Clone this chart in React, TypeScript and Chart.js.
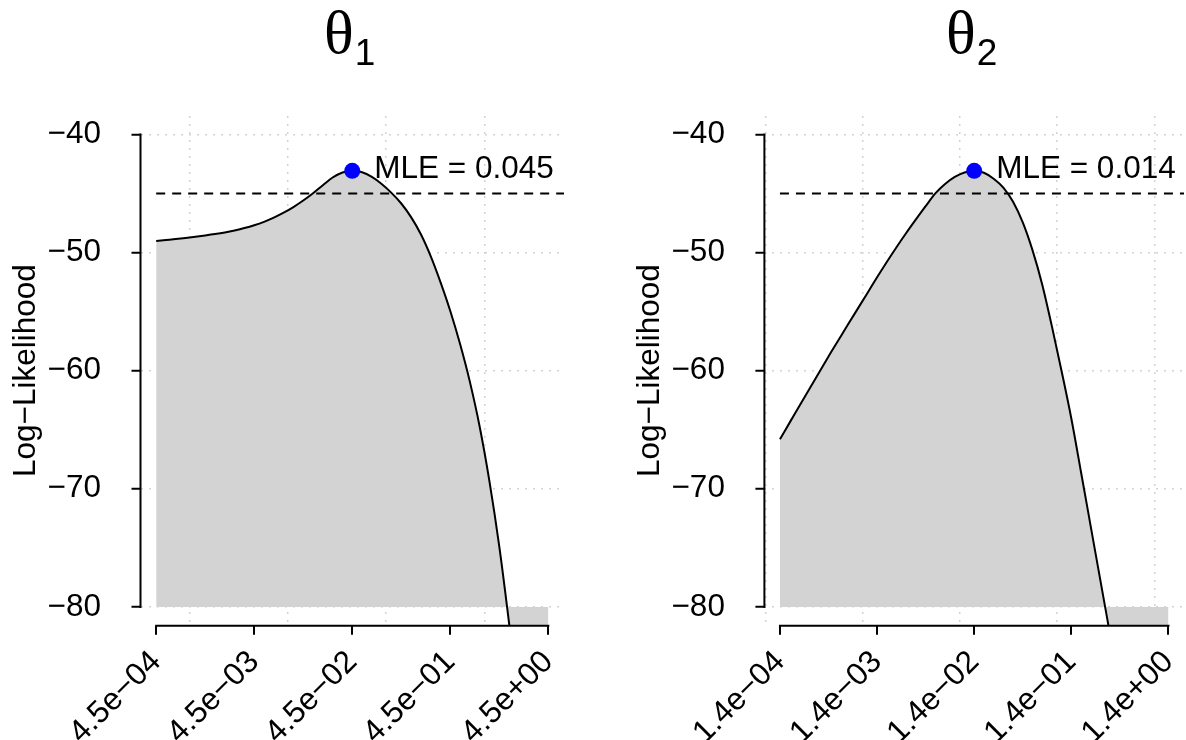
import React, { useEffect, useRef } from "react";
import { Chart, registerables } from "chart.js";

Chart.register(...registerables);

// offsets (in decades) of the profile grid around each MLE
const logOffsets = [
  -2.0, -1.9, -1.8, -1.7, -1.6, -1.5, -1.4, -1.3, -1.2, -1.1, -1.0,
  -0.9, -0.8, -0.7, -0.6, -0.5, -0.4, -0.3, -0.2, -0.1, 0.0,
  0.1, 0.2, 0.3, 0.4, 0.5, 0.6, 0.7, 0.8, 0.9, 1.0,
  1.1, 1.2, 1.3, 1.4, 1.5, 1.6, 1.7, 1.8, 1.9, 2.0,
];

// profile log-likelihood for theta1
const logLik1 = [
  -49.02, -48.94, -48.86, -48.77, -48.67, -48.56, -48.44, -48.3, -48.13, -47.93, -47.69,
  -47.4, -47.05, -46.63, -46.15, -45.6, -44.98, -44.3, -43.65, -43.22, -43.08,
  -43.2, -43.6, -44.2, -44.95, -45.85, -47.0, -48.45, -50.3, -52.5, -54.95,
  -57.75, -60.95, -64.75, -69.4, -74.9, -81.4, -88.5, -96, -104, -112,
];

// profile log-likelihood for theta2
const logLik2 = [
  -65.8, -64.4, -63.0, -61.6, -60.2, -58.8, -57.45, -56.1, -54.77, -53.44, -52.1,
  -50.8, -49.55, -48.35, -47.2, -46.08, -45.0, -44.2, -43.6, -43.22, -43.08,
  -43.25, -43.75, -44.5, -45.7, -47.45, -49.8, -52.7, -56.25, -60.05, -64.05,
  -68.6, -73.2, -77.8, -82.4, -87, -92, -97, -102, -107, -112,
];

const mleValues = [0.045, 0.014];
const maxLogLiks = [-43.08, -43.08];
const cutoffs = [-45.0, -45.0];
const subscripts = ["1", "2"];

const xTicks1 = [4.5e-4, 4.5e-3, 4.5e-2, 4.5e-1, 4.5];
const xTickLabels1 = ["4.5e\u221204", "4.5e\u221203", "4.5e\u221202", "4.5e\u221201", "4.5e+00"];
const xTicks2 = [1.4e-4, 1.4e-3, 1.4e-2, 1.4e-1, 1.4];
const xTickLabels2 = ["1.4e\u221204", "1.4e\u221203", "1.4e\u221202", "1.4e\u221201", "1.4e+00"];
const xGrid1 = [1e-3, 1e-2, 1e-1, 1];
const xGrid2 = [1e-4, 1e-3, 1e-2, 1e-1, 1];

const yTicks = [-80, -70, -60, -50, -40];
const yTickLabels = ["\u221280", "\u221270", "\u221260", "\u221250", "\u221240"];
const yRange = [-81.6, -38.4];
const fillBase = -80;

const SANS = '"Liberation Sans", Arial, Helvetica, sans-serif';
const SERIF = '"Liberation Serif", "Times New Roman", serif';
const FONT_SIZE = 31.5;
const GRID_COLOR = "#D3D3D3";
const GRID_DASH = [2, 6];

type PanelProps = {
  idx: number;
  left: number;
  width: number;
  yAxisWidth: number;
  padRight: number;
  yTitlePad: number;
  values: number[];
  xTicks: number[];
  xTickLabels: string[];
  xGrid: number[];
};

function Panel(p: PanelProps) {
  const ref = useRef<HTMLCanvasElement | null>(null);

  useEffect(() => {
    const canvas = ref.current;
    if (!canvas) return;
    const mle = mleValues[p.idx];
    const maxLL = maxLogLiks[p.idx];
    const cutoff = cutoffs[p.idx];

    const curve = logOffsets.map((d, i) => ({ x: mle * Math.pow(10, d), y: p.values[i] }));
    const lo = Math.log10(p.xTicks[0]);
    const hi = Math.log10(p.xTicks[p.xTicks.length - 1]);
    const pad = 0.04 * (hi - lo);
    const xMin = Math.pow(10, lo - pad);
    const xMax = Math.pow(10, hi + pad);

    const decor = {
      id: "decor",
      afterDraw(chart: any) {
        const { ctx, chartArea, scales } = chart;
        const xs = scales.x;
        const ys = scales.y;
        ctx.save();
        ctx.strokeStyle = "#000";
        ctx.lineWidth = 2;
        ctx.lineCap = "square";
        ctx.setLineDash([]);
        // x axis line (first to last tick)
        const x0 = xs.getPixelForValue(p.xTicks[0]);
        const x1 = xs.getPixelForValue(p.xTicks[p.xTicks.length - 1]);
        ctx.beginPath();
        ctx.moveTo(x0, chartArea.bottom);
        ctx.lineTo(x1, chartArea.bottom);
        ctx.stroke();
        // y axis line (first to last tick)
        const yA = ys.getPixelForValue(yTicks[0]);
        const yB = ys.getPixelForValue(yTicks[yTicks.length - 1]);
        ctx.beginPath();
        ctx.moveTo(chartArea.left, yA);
        ctx.lineTo(chartArea.left, yB);
        ctx.stroke();

        // title theta_i
        ctx.fillStyle = "#000";
        ctx.textBaseline = "alphabetic";
        ctx.textAlign = "left";
        const cx = (chartArea.left + chartArea.right) / 2;
        const thetaFont = `62px ${SERIF}`;
        const subFont = `37px ${SANS}`;
        ctx.font = thetaFont;
        const wT = ctx.measureText("\u03b8").width;
        ctx.font = subFont;
        const wS = ctx.measureText(subscripts[p.idx]).width;
        const start = cx - (wT + wS) / 2 - 3;
        ctx.font = thetaFont;
        ctx.fillText("\u03b8", start, 53);
        ctx.font = subFont;
        ctx.fillText(subscripts[p.idx], start + wT + 1, 65);

        // MLE label
        const px = xs.getPixelForValue(mle);
        const py = ys.getPixelForValue(maxLL);
        ctx.font = `${FONT_SIZE}px ${SANS}`;
        ctx.fillText(`MLE = ${mle}`, px + 22, py + 7);
        ctx.restore();
      },
    };

    const chart = new Chart(canvas, {
      type: "line",
      data: {
        datasets: [
          {
            label: "MLE",
            data: [{ x: mle, y: maxLL }],
            xAxisID: "x",
            yAxisID: "y",
            showLine: false,
            pointRadius: 8,
            pointBackgroundColor: "#0000FF",
            pointBorderColor: "#0000FF",
            pointBorderWidth: 0,
            fill: false,
          },
          {
            label: "cutoff",
            data: [
              { x: curve[0].x, y: cutoff },
              { x: xMax, y: cutoff },
            ],
            xAxisID: "x",
            yAxisID: "y",
            borderColor: "#000",
            borderWidth: 2,
            borderDash: [9, 7],
            pointRadius: 0,
            fill: false,
          },
          {
            label: "profile",
            data: curve,
            xAxisID: "x",
            yAxisID: "y",
            borderColor: "#000",
            borderWidth: 2,
            backgroundColor: "#D3D3D3",
            pointRadius: 0,
            cubicInterpolationMode: "monotone",
            fill: { value: fillBase },
          },
        ],
      },
      options: {
        animation: false,
        responsive: false,
        devicePixelRatio: 1,
        events: [],
        layout: { padding: { top: 115.5, right: p.padRight, bottom: 0, left: 0 } },
        plugins: {
          legend: { display: false },
          tooltip: { enabled: false },
          title: { display: false },
        },
        scales: {
          x: {
            type: "logarithmic",
            axis: "x",
            position: "bottom",
            min: xMin,
            max: xMax,
            bounds: "data",
            afterBuildTicks: (scale: any) => {
              scale.ticks = p.xTicks.map((v) => ({ value: v }));
            },
            afterFit: (scale: any) => {
              scale.height = 740 - 625.8;
            },
            border: { display: false },
            grid: {
              display: true,
              drawOnChartArea: false,
              drawTicks: true,
              tickLength: 9,
              color: "#000",
              tickColor: "#000",
              tickWidth: 2,
              lineWidth: 2,
              tickBorderDash: [],
            },
            ticks: {
              autoSkip: false,
              minRotation: 45,
              maxRotation: 45,
              padding: 22,
              color: "#000",
              font: { family: SANS, size: FONT_SIZE, lineHeight: 0.01 },
              callback: (_v: any, i: number) => p.xTickLabels[i],
            },
          },
          xg: {
            type: "logarithmic",
            axis: "x",
            position: "top",
            min: xMin,
            max: xMax,
            bounds: "data",
            afterBuildTicks: (scale: any) => {
              scale.ticks = p.xGrid.map((v) => ({ value: v }));
            },
            afterFit: (scale: any) => {
              scale.height = 0;
            },
            border: { display: false, dash: GRID_DASH },
            grid: {
              display: true,
              drawOnChartArea: true,
              drawTicks: false,
              color: GRID_COLOR,
              lineWidth: 1.5,
              borderDash: GRID_DASH,
            },
            ticks: { display: false },
          },
          y: {
            type: "linear",
            position: "left",
            min: yRange[0],
            max: yRange[1],
            bounds: "data",
            afterBuildTicks: (scale: any) => {
              scale.ticks = yTicks.map((v) => ({ value: v }));
            },
            afterFit: (scale: any) => {
              scale.width = p.yAxisWidth;
            },
            border: { display: false, dash: GRID_DASH },
            grid: {
              display: true,
              drawOnChartArea: true,
              drawTicks: true,
              tickLength: 9,
              color: GRID_COLOR,
              lineWidth: 1.5,
              borderDash: GRID_DASH,
              tickColor: "#000",
              tickWidth: 2,
              tickBorderDash: [],
            },
            ticks: {
              padding: 30.5,
              color: "#000",
              font: { family: SANS, size: FONT_SIZE },
              callback: (v: any) => yTickLabels[yTicks.indexOf(Number(v))],
            },
            title: {
              display: true,
              text: "Log\u2212Likelihood",
              color: "#000",
              font: { family: SANS, size: FONT_SIZE },
              padding: { top: p.yTitlePad, bottom: 0 },
            },
          },
        },
      },
      plugins: [decor],
    } as any);

    return () => chart.destroy();
  }, []);

  return (
    <canvas
      ref={ref}
      width={p.width}
      height={740}
      style={{ position: "absolute", left: p.left, top: 0, width: p.width, height: 740 }}
    />
  );
}

export default function App() {
  return (
    <div
      style={{
        position: "fixed",
        left: 0,
        top: 0,
        width: 1186,
        height: 740,
        overflow: "hidden",
        background: "#fff",
      }}
    >
      <Panel
        idx={0}
        left={0}
        width={600}
        yAxisWidth={140.5}
        padRight={600 - 564}
        yTitlePad={7}
        values={logLik1}
        xTicks={xTicks1}
        xTickLabels={xTickLabels1}
        xGrid={xGrid1}
      />
      <Panel
        idx={1}
        left={600}
        width={592}
        yAxisWidth={164.4}
        padRight={592 - 587.8}
        yTitlePad={31.6}
        values={logLik2}
        xTicks={xTicks2}
        xTickLabels={xTickLabels2}
        xGrid={xGrid2}
      />
    </div>
  );
}
